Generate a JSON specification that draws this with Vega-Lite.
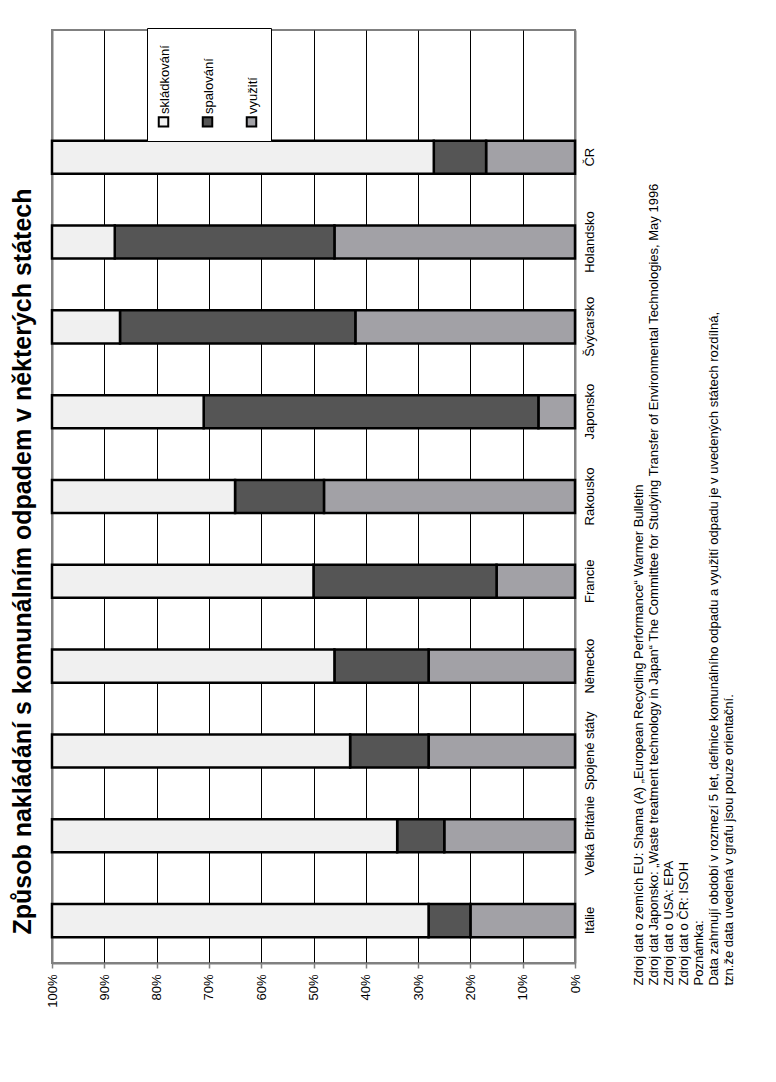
{
  "$schema": "https://vega.github.io/schema/vega-lite/v6.json",
  "width": 523,
  "height": 933,
  "autosize": {"type": "none"},
  "padding": {"left": 52, "top": 30, "right": 201, "bottom": 119},
  "background": "white",
  "title": {
    "text": "Způsob nakládání s komunálním odpadem v některých státech",
    "orient": "left",
    "anchor": "middle",
    "font": "Liberation Sans",
    "fontSize": 25,
    "fontWeight": "bold",
    "color": "black",
    "offset": 10,
    "dx": -65
  },
  "data": {
    "values": [
      {"stat": "Itálie", "druh": "využití", "podil": 20},
      {"stat": "Itálie", "druh": "spalování", "podil": 8},
      {"stat": "Itálie", "druh": "skládkování", "podil": 72},
      {"stat": "Velká Británie", "druh": "využití", "podil": 25},
      {"stat": "Velká Británie", "druh": "spalování", "podil": 9},
      {"stat": "Velká Británie", "druh": "skládkování", "podil": 66},
      {"stat": "Spojené státy", "druh": "využití", "podil": 28},
      {"stat": "Spojené státy", "druh": "spalování", "podil": 15},
      {"stat": "Spojené státy", "druh": "skládkování", "podil": 57},
      {"stat": "Německo", "druh": "využití", "podil": 28},
      {"stat": "Německo", "druh": "spalování", "podil": 18},
      {"stat": "Německo", "druh": "skládkování", "podil": 54},
      {"stat": "Francie", "druh": "využití", "podil": 15},
      {"stat": "Francie", "druh": "spalování", "podil": 35},
      {"stat": "Francie", "druh": "skládkování", "podil": 50},
      {"stat": "Rakousko", "druh": "využití", "podil": 48},
      {"stat": "Rakousko", "druh": "spalování", "podil": 17},
      {"stat": "Rakousko", "druh": "skládkování", "podil": 35},
      {"stat": "Japonsko", "druh": "využití", "podil": 7},
      {"stat": "Japonsko", "druh": "spalování", "podil": 64},
      {"stat": "Japonsko", "druh": "skládkování", "podil": 29},
      {"stat": "Švýcarsko", "druh": "využití", "podil": 42},
      {"stat": "Švýcarsko", "druh": "spalování", "podil": 45},
      {"stat": "Švýcarsko", "druh": "skládkování", "podil": 13},
      {"stat": "Holandsko", "druh": "využití", "podil": 46},
      {"stat": "Holandsko", "druh": "spalování", "podil": 42},
      {"stat": "Holandsko", "druh": "skládkování", "podil": 12},
      {"stat": "ČR", "druh": "využití", "podil": 17},
      {"stat": "ČR", "druh": "spalování", "podil": 10},
      {"stat": "ČR", "druh": "skládkování", "podil": 73}
    ]
  },
  "mark": {"type": "bar", "stroke": "black", "strokeWidth": 2.5},
  "encoding": {
    "y": {
      "field": "stat",
      "type": "nominal",
      "scale": {
        "domain": [" ", "ČR", "Holandsko", "Švýcarsko", "Japonsko", "Rakousko", "Francie", "Německo", "Spojené státy", "Velká Británie", "Itálie"],
        "paddingInner": 0.61,
        "paddingOuter": 0.305
      },
      "axis": {
        "orient": "right",
        "title": [
          "Zdroj dat o zemích EU: Shama (A) „European Recycling Performance“ Warmer Bulletin",
          "Zdroj dat Japonsko: „Waste treatment technology in Japan“ The Committee for Studying Transfer of Environmental Technologies, May 1996",
          "Zdroj dat o USA: EPA",
          "Zdroj dat o ČR: ISOH",
          "Poznámka:",
          "Data zahrnují období v rozmezí 5 let, definice komunálního odpadu a využití odpadu je v uvedených státech rozdílná,",
          "tzn.že data uvedená v grafu jsou pouze orientační."
        ],
        "titleAngle": 270,
        "titleAlign": "left",
        "titleBaseline": "top",
        "titleX": 57,
        "titleY": 955,
        "titleFontSize": 13,
        "titleFontWeight": "normal",
        "titleLineHeight": 15,
        "titleColor": "black",
        "titleLimit": 3000,
        "labelAngle": 270,
        "labelAlign": "center",
        "labelBaseline": "top",
        "labelPadding": 8,
        "labelFontSize": 13,
        "labelColor": "black",
        "ticks": false,
        "domain": false,
        "grid": false
      }
    },
    "x": {
      "field": "podil",
      "type": "quantitative",
      "stack": "normalize",
      "scale": {"domain": [0, 1], "reverse": true},
      "axis": {
        "orient": "bottom",
        "title": null,
        "values": [0, 0.1, 0.2, 0.3, 0.4, 0.5, 0.6, 0.7, 0.8, 0.9, 1],
        "format": ".0%",
        "labelAngle": 270,
        "labelFontSize": 13,
        "labelColor": "black",
        "labelPadding": 6,
        "tickColor": "#808080",
        "tickSize": 5,
        "tickWidth": 1.5,
        "domainColor": "#808080",
        "domainWidth": 2,
        "grid": true,
        "gridColor": {"condition": {"test": "datum.value === 0 || datum.value === 1", "value": "#808080"}, "value": "black"},
        "gridWidth": {"condition": {"test": "datum.value === 0 || datum.value === 1", "value": 2}, "value": 1},
        "gridOpacity": 1
      }
    },
    "color": {
      "field": "druh",
      "type": "nominal",
      "scale": {
        "domain": ["skládkování", "spalování", "využití"],
        "range": ["#f0f0f0", "#555555", "#a2a1a6"]
      },
      "legend": {
        "title": " ",
        "titleFontSize": 10,
        "titlePadding": 67,
        "orient": "none",
        "legendX": 95,
        "legendY": -2,
        "direction": "horizontal",
        "fillColor": "white",
        "strokeColor": "black",
        "padding": 10,
        "columnPadding": 25,
        "symbolType": "square",
        "symbolSize": 90,
        "symbolStrokeColor": "black",
        "symbolStrokeWidth": 2,
        "symbolOpacity": 1,
        "labelFontSize": 13,
        "labelColor": "black",
        "labelFont": "Liberation Sans",
        "encode": {
          "labels": {
            "update": {
              "angle": {"value": -90},
              "align": {"value": "left"},
              "baseline": {"value": "middle"},
              "dx": {"value": 8},
              "dy": {"value": -9}
            }
          }
        }
      }
    },
    "order": {"field": "druh", "sort": "descending"}
  },
  "config": {
    "font": "Liberation Sans",
    "view": {"stroke": "#808080", "strokeWidth": 2}
  }
}
